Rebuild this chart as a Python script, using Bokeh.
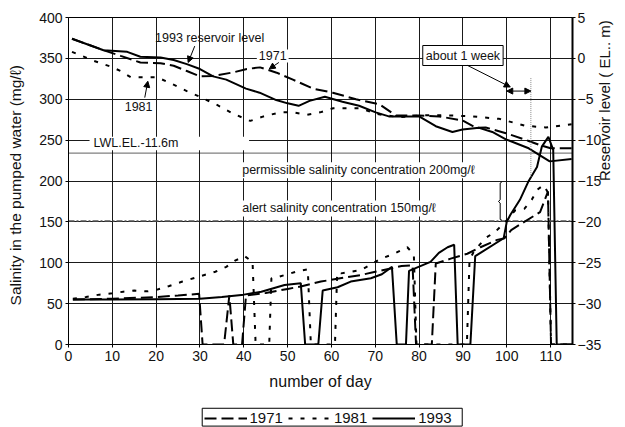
import math
from bokeh.plotting import figure
from bokeh.layouts import column
from bokeh.models import (Range1d, LinearAxis, Label, Arrow, NormalHead, Legend,
                          LegendItem, SingleIntervalTicker)
from bokeh.embed import file_html
from bokeh.resources import INLINE

# ---------------- data ----------------
# Salinity in the pumped water (mg/l)
sal_day_1971 = [1, 10, 20, 25, 29.8, 30.6, 35.5, 36.7, 37.6, 39.6, 40.5, 45, 50, 53, 57.6, 62, 66.7, 70,
                73.5, 76, 78.5, 79.3, 82.9, 83.8, 87.2, 91, 94, 97.8, 99.5, 101, 104, 107.6, 109.4, 110.1, 115]
sal_1971 = [55, 56, 58, 60, 62, 0, 0, 60, 0, 0, 60, 63, 68, 71, 77, 81, 85, 89,
            93, 96, 97, 0, 0, 99, 105, 111, 119, 128, 130, 140, 150, 162, 187, 0, 0]

sal_day_1981 = [1, 4, 7, 10, 12.5, 15, 18, 20.5, 23, 26, 28.5, 31, 33.5, 36, 38, 40.2, 42, 42.7,
                45.8, 46.3, 47.5, 52.5, 54.6, 55.3, 60.8, 61.3, 62.2, 66.7, 71.3, 74.3, 77.3, 78.8,
                79.4, 90.9, 91.5, 92.5, 95.1, 97.4, 99.7, 101.9, 104, 105.7, 106.9, 108.4, 109.4, 110.1, 115]
sal_1981 = [56, 58, 61, 62.6, 64.6, 66, 65, 67.5, 71.6, 77, 81, 85, 89, 95, 102.6, 108, 101, 0,
            0, 81, 82, 90, 92, 0, 0, 88, 87, 91, 105, 111, 119, 110,
            0, 0, 103, 114, 130, 138, 150, 164, 166, 177, 189, 195, 186, 0, 0]

sal_day_1993 = [1, 10, 20, 30, 35, 40, 44, 49.3, 53, 54, 57, 58, 61.4, 64.4, 69, 71.5, 73.8, 74.9,
                77, 77.7, 82.6, 84.5, 86.5, 88, 88.8, 91.7, 92.8, 99.3, 100, 100.8, 103, 104.9,
                106.9, 108, 109.5, 110.6, 111.4, 115]
sal_1993 = [55, 55, 55.5, 56, 58, 61, 64.6, 72.8, 75, 0, 0, 66, 70, 77, 81, 86, 95, 0,
            0, 90, 101, 112, 119, 122, 0, 0, 108, 130, 150, 158.5, 177, 199,
            217, 242, 254, 238, 0, 0]

# Reservoir level (EL. m)
res_day_1971 = [0.8, 8, 11.9, 16.4, 21, 24, 27, 30, 33, 37.7, 40.7, 43.7, 47.5, 51.2, 55.8, 60.3, 65.6,
                70.9, 74.7, 80, 84.6, 89.9, 93, 95.2, 99.8, 105, 107.5, 110, 114.8]
res_1971 = [2.4, 1.0, 0.3, -0.5, -0.6, -0.9, -1.55, -2.2, -2.15, -1.7, -1.3, -1.1, -1.75, -2.6, -3.7,
            -4.2, -5.0, -5.6, -7.0, -7.0, -7.1, -7.6, -8.5, -8.45, -9.15, -10.1, -10.6, -11.0, -11.0]

res_day_1981 = [0.8, 5.8, 9.6, 11.9, 14.2, 20.2, 23.3, 27, 30, 33.9, 37.7, 41.5, 44.5, 48.3, 51.3, 54.4,
                57.4, 60.4, 66.5, 70.3, 75.5, 80.8, 85.4, 92.2, 98.3, 104.3, 108.9, 114.8]
res_1981 = [0.8, -0.3, -1.0, -1.55, -2.3, -2.3, -3.05, -4.0, -4.7, -5.7, -6.8, -7.65, -7.1, -6.6, -6.6,
            -6.9, -6.6, -6.1, -6.1, -6.8, -7.2, -6.95, -6.95, -7.1, -7.4, -8.25, -8.45, -8.05]

res_day_1993 = [0.8, 8, 13.4, 16.4, 21, 24, 27, 30, 33, 36, 40.5, 43.6, 47.4, 50, 52.5, 55, 58.5, 62.5,
                66.3, 70.1, 73.1, 80, 83.8, 87.6, 89.9, 93.7, 96.7, 99.8, 105, 109.8, 114.8]
res_1993 = [2.4, 1.0, 0.8, 0.2, 0.1, -0.2, -0.7, -1.3, -2.2, -2.6, -3.7, -4.2, -5.1, -5.5, -5.8, -5.2,
            -4.7, -5.3, -5.8, -6.6, -7.1, -7.1, -8.3, -9.0, -8.7, -8.5, -9.0, -9.9, -11.0, -12.6, -12.3]

years = ["1971", "1981", "1993"]
lwl_level = -11.6          # EL. m
alert_level = 150          # mg/l
x_ticks_interval = 10

FONT = "Liberation Sans"
INK = "#111111"

p = figure(width=625, height=396, x_range=Range1d(0, 115), y_range=Range1d(0, 400),
           output_backend="svg", toolbar_location=None,
           min_border_left=68, min_border_right=53, min_border_top=17, min_border_bottom=52)
p.extra_y_ranges = {"res": Range1d(-35, 5)}
p.outline_line_color = "black"
p.outline_line_width = 1
p.background_fill_color = "white"
p.border_fill_color = "white"

# axes
p.xaxis.ticker = SingleIntervalTicker(interval=x_ticks_interval)
p.yaxis.ticker = SingleIntervalTicker(interval=50)
raxis = LinearAxis(y_range_name="res", ticker=SingleIntervalTicker(interval=5))
p.add_layout(raxis, "right")
laxis = p.left[0]

for ax in (p.below[0], laxis, raxis):
    ax.major_tick_out = 3
    ax.major_tick_in = 0
    ax.minor_tick_out = 0
    ax.minor_tick_in = 0
    ax.axis_line_color = "black"
    ax.major_tick_line_color = "black"
    ax.major_label_text_font = FONT
    ax.major_label_text_font_size = "14px"
    ax.major_label_text_color = INK
    ax.axis_label_text_font = FONT
    ax.axis_label_text_font_style = "normal"
    ax.axis_label_text_color = INK
    ax.major_label_standoff = 3

raxis.axis_line_width = 2
raxis.major_label_standoff = 2
p.below[0].axis_label = "number of day"
p.below[0].axis_label_text_font_size = "16px"
p.below[0].axis_label_standoff = 9
laxis.axis_label = "Salinity in  the pumped  water (mg/\u2113)"
laxis.axis_label_text_font_size = "15.5px"
laxis.axis_label_standoff = 12
raxis.axis_label = "Reservoir level ( EL.. m)"
raxis.axis_label_text_font_size = "15px"
raxis.axis_label_standoff = 0
if "axis_label_orientation" in raxis.properties():
    raxis.axis_label_orientation = math.pi / 2

p.xgrid.ticker = SingleIntervalTicker(interval=x_ticks_interval)
p.ygrid.ticker = SingleIntervalTicker(interval=50)
p.grid.grid_line_color = "#1a1a1a"
p.grid.grid_line_width = 1

# white box behind LWL label interrupting grid
p.quad(left=[4.8], right=[41.2], bottom=[237.5], top=[254], fill_color="white", line_color=None)

# reference lines
p.line([0, 115], [lwl_level, lwl_level], y_range_name="res", line_color="black",
       line_width=1.3, line_dash="1 1")
p.line([0, 115], [alert_level + 1, alert_level + 1], line_color="#555555",
       line_width=1.5, line_dash="6 2 2 2")

dash = {"1971": "12 5", "1981": "4 8", "1993": "solid"}
sal_x = {"1971": sal_day_1971, "1981": sal_day_1981, "1993": sal_day_1993}
sal_y = {"1971": sal_1971, "1981": sal_1981, "1993": sal_1993}
res_x = {"1971": res_day_1971, "1981": res_day_1981, "1993": res_day_1993}
res_y = {"1971": res_1971, "1981": res_1981, "1993": res_1993}

for yr in years:
    p.line(sal_x[yr], sal_y[yr], line_color="black", line_width=2, line_dash=dash[yr])
    p.line(res_x[yr], res_y[yr], y_range_name="res", line_color="black", line_width=2,
           line_dash=dash[yr])

# vertical marker (1993 reaching 200 mg/l)
p.line([105.5, 105.5], [205, 326], line_color="#888888", line_width=1, line_dash="1 1")
# bracket between 150 and 200
p.line([98.9, 98.5, 98.5, 98.1, 98.5, 98.5, 98.9], [199, 197.5, 177, 175, 173, 153, 152],
       line_color="black", line_width=1)

def lab(x, y, text, size="12.5px", align="center", bg=None, border=None, pad=0):
    L = Label(x=x, y=y, text=text, text_font=FONT, text_font_size=size, text_color=INK,
              text_align=align, text_baseline="middle", padding=pad)
    if bg:
        L.background_fill_color = bg
    if border:
        L.border_line_color = border
        L.border_line_width = 1
    p.add_layout(L)

lab(32.2, 374.8, "1993 reservoir level")
lab(46.6, 353, "1971", bg="white", pad=2)
lab(16.0, 291, "1981", bg="white", pad=2)
lab(5.7, 246.5, "LWL.EL.-11.6m", align="left")
lab(39.4, 213, "permissible salinity concentration 200mg/\u2113", align="left", bg="white", pad=1)
lab(39.4, 166.5, "alert salinity concentration 150mg/\u2113", align="left", bg="white", pad=1)
lab(90.0, 353.5, "about 1 week", size="12.5px", bg="white", border="black", pad=3)

def arrow(x0, y0, x1, y1, both=False, size=6):
    a = Arrow(end=NormalHead(size=size, fill_color="black", line_color="black", line_width=1),
              x_start=x0, y_start=y0, x_end=x1, y_end=y1, line_width=1, line_color="black")
    if both:
        a.start = NormalHead(size=size, fill_color="black", line_color="black", line_width=1)
    p.add_layout(a)

arrow(28.8, 365, 27.3, 345)
arrow(48.0, 345, 45.8, 337)
arrow(17.4, 302, 18.1, 322)
arrow(91.0, 341.5, 100.8, 315)
arrow(100.0, 310, 105.5, 310, both=True)

# ---------------- legend strip below the chart ----------------
q = figure(width=625, height=31, x_range=Range1d(0, 1), y_range=Range1d(0, 1),
           output_backend="svg", toolbar_location=None, min_border=0,
           x_axis_location=None, y_axis_location=None)
q.grid.visible = False
q.outline_line_color = None
# frame of the legend box (fractions of the strip)
q.quad(left=[0.2653], right=[0.7812], bottom=[0.045], top=[0.62],
       fill_color=None, line_color="black", line_width=1)
items = []
for yr in years:
    r = q.line([5, 6], [5, 6], line_color="black", line_width=2, line_dash=dash[yr])
    items.append(LegendItem(label=yr, renderers=[r]))
legend = Legend(items=items, orientation="horizontal", location=(135.5, 0.8),
                label_text_font=FONT, label_text_font_size="15px", label_text_color=INK,
                glyph_width=43, glyph_height=12, label_standoff=3, spacing=5, padding=1,
                margin=0, border_line_color=None, background_fill_alpha=0.0,
                label_height=12)
q.add_layout(legend, "center")

open("out.html", "w").write(file_html(column(p, q), INLINE))
